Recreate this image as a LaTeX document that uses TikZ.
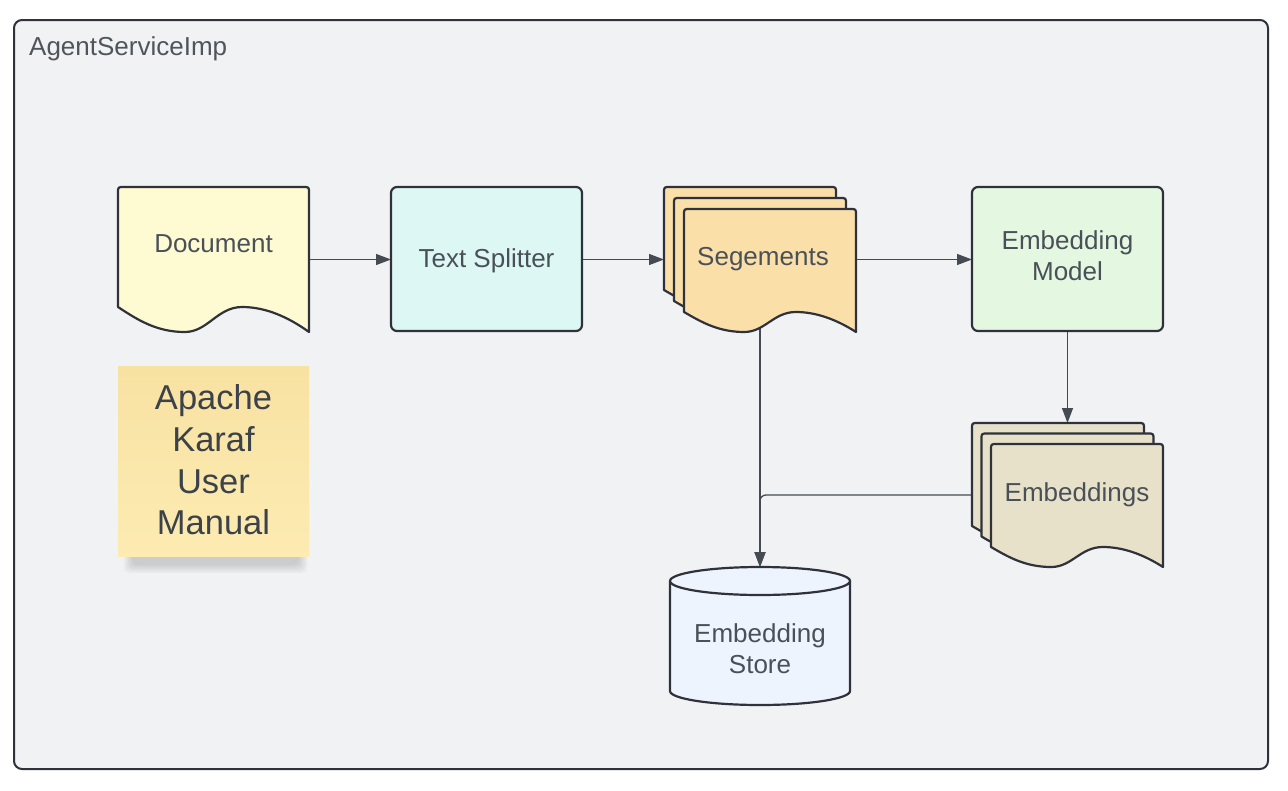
\documentclass[tikz,border=0pt]{standalone}
\usepackage{fontspec}
\setmainfont{Liberation Sans}
\usetikzlibrary{arrows.meta}

\definecolor{framefill}{HTML}{F1F2F4}
\definecolor{lineclr}{HTML}{2F323A}
\definecolor{arrowclr}{HTML}{464B53}
\definecolor{textclr}{HTML}{4A5058}
\definecolor{titleclr}{HTML}{50555C}
\definecolor{noteclr}{HTML}{3C424A}
\definecolor{docfill}{HTML}{FEFBD2}
\definecolor{splitfill}{HTML}{DDF7F4}
\definecolor{segfill}{HTML}{FADFA9}
\definecolor{modelfill}{HTML}{E4F8E1}
\definecolor{embfill}{HTML}{E6E1C8}
\definecolor{storefill}{HTML}{EEF4FE}
\definecolor{notetop}{HTML}{F8E2A2}
\definecolor{notebot}{HTML}{FCEBB2}

% document outline: left, top, right, bottom (right end), wave height
\newcommand{\docpath}[5]{%
  ({#1},{(#2)+6}) .. controls ({#1},{#2}) .. ({(#1)+6},{#2})
  -- ({(#3)-6},{#2}) .. controls ({#3},{#2}) .. ({#3},{(#2)+6})
  -- ({#3},{#4})
  .. controls ({(#1)+0.9*((#3)-(#1))},{(#4)-0.55*(#5)}) and ({(#1)+0.78*((#3)-(#1))},{(#4)-(#5)}) .. ({(#1)+0.65*((#3)-(#1))},{(#4)-(#5)})
  .. controls ({(#1)+0.52*((#3)-(#1))},{(#4)-(#5)}) and ({(#1)+0.47*((#3)-(#1))},{#4}) .. ({(#1)+0.35*((#3)-(#1))},{#4})
  .. controls ({(#1)+0.2*((#3)-(#1))},{#4}) and ({(#1)+0.1*((#3)-(#1))},{(#4)-0.5*(#5)}) .. ({#1},{(#4)-(#5)})
  -- cycle}

\begin{document}
\begin{tikzpicture}[x=1pt,y=-1pt,
    box/.style={inner sep=0pt,outer sep=0pt},
    shapeline/.style={draw=lineclr,line width=2.2pt,line join=round},
    flow/.style={draw=arrowclr,line width=1.3pt,-{Triangle[length=15pt,width=11pt]}},
    lbl/.style={text=textclr,font=\fontsize{26}{31.2}\selectfont,inner sep=0pt,align=center}]
  \fill[white] (0,0) rectangle (1288,790);
  \useasboundingbox (0,0) rectangle (1288,790);

  \draw[draw=lineclr,line width=2pt,fill=framefill,rounded corners=8pt] (14,20) rectangle (1268,769);

  % sticky note
  \foreach \i in {0,...,4}
    \fill[black,opacity=0.03,rounded corners=5pt] ({124+2*\i},548) rectangle ({307-2*\i},{573-2*\i});
  \shade[top color=notetop,bottom color=notebot] (118,366) rectangle (309,556);

  \node[box,minimum width=191,minimum height=145] (doc) at (213.5,259.5) {};
  \node[box,minimum width=191,minimum height=144] (split) at (486.5,259.5) {};
  \node[box,minimum width=192,minimum height=145] (seg) at (760,259.5) {};
  \node[box,minimum width=191,minimum height=144] (model) at (1067.5,259.5) {};
  \node[box,minimum width=191,minimum height=144] (embs) at (1067.5,495) {};
  \node[box,minimum width=180,minimum height=138] (store) at (760,636) {};

  \draw[flow] (doc.east) -- (split.west);
  \draw[flow] (split.east) -- (seg.west);
  \draw[flow] (seg.east) -- (model.west);
  \draw[flow] (model.south) -- (embs.north);
  \draw[flow] ([yshift=8pt]seg.south) -- (store.north);
  \draw[flow,rounded corners=6pt] (embs.west) -| (store.north);

  \filldraw[shapeline,fill=docfill] \docpath{118}{187}{309}{332}{25};
  \filldraw[shapeline,fill=splitfill,rounded corners=6pt] (391,187) rectangle (582,331);
  \foreach \k in {0,1,2}
    \filldraw[shapeline,fill=segfill] \docpath{664+10*\k}{187+11*\k}{836+10*\k}{310+11*\k}{20};
  \filldraw[shapeline,fill=modelfill,rounded corners=6pt] (972,187) rectangle (1163,331);
  \foreach \k in {0,1,2}
    \filldraw[shapeline,fill=embfill] \docpath{972+9.5*\k}{423+10.5*\k}{1144+9.5*\k}{546+10.5*\k}{20};

  % cylinder
  \filldraw[shapeline,fill=storefill] (670,581) -- (670,691)
    .. controls (670,698.7) and (710.3,705) .. (760,705)
    .. controls (809.7,705) and (850,698.7) .. (850,691) -- (850,581)
    .. controls (850,573.3) and (809.7,567) .. (760,567)
    .. controls (710.3,567) and (670,573.3) .. (670,581) -- cycle;
  \draw[shapeline] (670,581) .. controls (670,588.7) and (710.3,595) .. (760,595)
    .. controls (809.7,595) and (850,588.7) .. (850,581);

  \node[lbl,anchor=base west,text=titleclr] (title) at (29,55) {AgentServiceImp};
  \node[lbl,anchor=base] (doctext) at (213.5,252) {Document};
  \node[lbl,anchor=base] (splittext) at (486.5,267) {Text Splitter};
  \node[lbl,anchor=base] (segtext) at (763,265) {Segements};
  \node[lbl] (modeltext) at (1067.5,256) {Embedding\\Model};
  \node[lbl,anchor=base] (embtext) at (1077,501) {Embeddings};
  \node[lbl] (storetext) at (760,649) {Embedding\\Store};
  \node[lbl,text=noteclr,font=\fontsize{34.5}{41.7}\selectfont] (notetext) at (213.5,460) {Apache\\Karaf\\User\\Manual};
\end{tikzpicture}
\end{document}
